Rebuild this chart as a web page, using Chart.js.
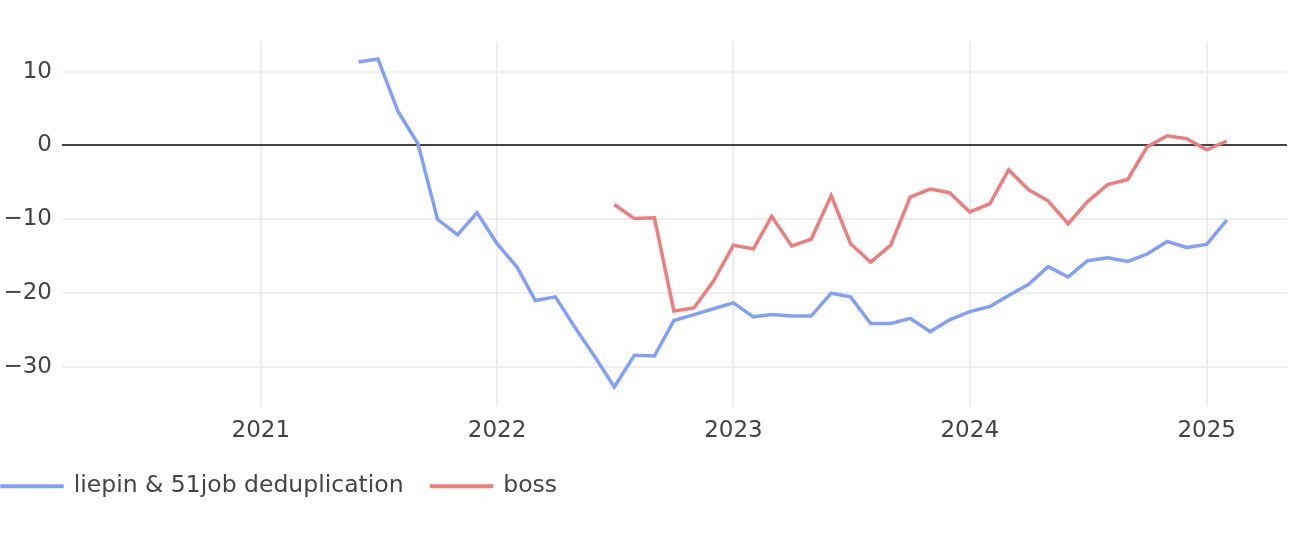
<!DOCTYPE html>
<html>
<head>
<meta charset="utf-8">
<script src="https://cdn.jsdelivr.net/npm/chart.js@4.4.1/dist/chart.umd.min.js"></script>
<style>
  body { margin: 0; background: #fff; }
</style>
</head>
<body>
<canvas id="grafica" width="1290" height="546"></canvas>
<script>
// meses (primer dia de cada mes)
const meses = [
    '2021-06', '2021-07', '2021-08', '2021-09', '2021-10', '2021-11', '2021-12',
    '2022-01', '2022-02', '2022-03', '2022-04', '2022-05', '2022-06',
    '2022-07', '2022-08', '2022-09', '2022-10', '2022-11', '2022-12',
    '2023-01', '2023-02', '2023-03', '2023-04', '2023-05', '2023-06',
    '2023-07', '2023-08', '2023-09', '2023-10', '2023-11', '2023-12',
    '2024-01', '2024-02', '2024-03', '2024-04', '2024-05', '2024-06',
    '2024-07', '2024-08', '2024-09', '2024-10', '2024-11', '2024-12',
    '2025-01', '2025-02'
];

const liepin = [
    11.3, 11.7, 4.6, 0.2, -10.0, -12.1, -9.1,
    -13.3, -16.5, -21.0, -20.5, -24.6, -28.6,
    -32.7, -28.4, -28.5, -23.7, -22.9, -22.1,
    -21.3, -23.2, -22.9, -23.1, -23.1, -20.0,
    -20.5, -24.1, -24.1, -23.4, -25.2, -23.6,
    -22.5, -21.8, -20.3, -18.8, -16.4, -17.8,
    -15.6, -15.2, -15.7, -14.7, -13.0, -13.8,
    -13.4, -10.1
];

const boss = [
    null, null, null, null, null, null, null,
    null, null, null, null, null, null,
    -8.0, -9.9, -9.8, -22.4, -22.0, -18.4,
    -13.5, -14.0, -9.6, -13.6, -12.7, -6.8,
    -13.3, -15.8, -13.5, -7.0, -5.9, -6.4,
    -9.0, -7.9, -3.3, -6.0, -7.5, -10.6,
    -7.6, -5.3, -4.6, -0.2, 1.3, 0.9,
    -0.6, 0.6
];

const anios = [2021, 2022, 2023, 2024, 2025];
const valoresY = [-30, -20, -10, 0, 10];

const aFecha = m => Date.UTC(+m.slice(0, 4), +m.slice(5, 7) - 1, 1);

const serie = valores => meses.map((m, i) => ({ x: aFecha(m), y: valores[i] }));

const fuente = { family: "'DejaVu Sans', Verdana, sans-serif", size: 23 };

// mueve la leyenda hacia la izquierda (como en plotly)
const correrLeyenda = {
    id: 'correrLeyenda',
    afterLayout(chart) {
        chart.legend.left = 2 - chart.legend.options.labels.padding;
    }
};

const ctx = document.getElementById('grafica').getContext('2d');

new Chart(ctx, {
    type: 'line',
    data: {
        datasets: [
            {
                label: 'liepin & 51job deduplication',
                data: serie(liepin),
                borderColor: 'rgb(130, 160, 250)',
                backgroundColor: 'rgb(130, 160, 250)',
                borderWidth: 3.5,
                pointRadius: 0,
                fill: false
            },
            {
                label: 'boss',
                data: serie(boss),
                borderColor: 'rgb(238, 125, 125)',
                backgroundColor: 'rgb(238, 125, 125)',
                borderWidth: 3.5,
                pointRadius: 0,
                fill: false
            }
        ]
    },
    options: {
        responsive: false,
        animation: false,
        layout: { padding: { top: 42, right: 3, bottom: 38, left: 0 } },
        plugins: {
            legend: {
                position: 'bottom',
                align: 'start',
                labels: {
                    boxWidth: 60,
                    boxHeight: 0.5,
                    padding: 28,
                    color: '#444',
                    font: { family: fuente.family, size: 23.5 }
                }
            },
            tooltip: { enabled: false }
        },
        scales: {
            x: {
                type: 'linear',
                min: Date.UTC(2020, 1, 29),
                max: Date.UTC(2025, 4, 5),
                afterBuildTicks: eje => {
                    eje.ticks = anios.map(a => ({ value: Date.UTC(a, 0, 1) }));
                },
                afterFit: eje => { eje.height = 41; },
                ticks: {
                    callback: v => new Date(v).getUTCFullYear(),
                    color: '#444',
                    font: fuente,
                    padding: 12,
                    maxRotation: 0
                },
                grid: { color: '#eeeeee', lineWidth: 2, drawTicks: false },
                border: { display: false }
            },
            y: {
                min: -35.2,
                max: 14.0,
                afterBuildTicks: eje => {
                    eje.ticks = valoresY.map(v => ({ value: v }));
                },
                afterFit: eje => { eje.width = 62; },
                ticks: {
                    callback: v => (v < 0 ? '\u2212' + Math.abs(v) : String(v)),
                    color: '#444',
                    font: fuente,
                    padding: 10
                },
                grid: {
                    color: c => (c.tick && c.tick.value === 0 ? '#444' : '#eeeeee'),
                    lineWidth: 2,
                    drawTicks: false
                },
                border: { display: false }
            }
        }
    },
    plugins: [correrLeyenda]
});
</script>
</body>
</html>
